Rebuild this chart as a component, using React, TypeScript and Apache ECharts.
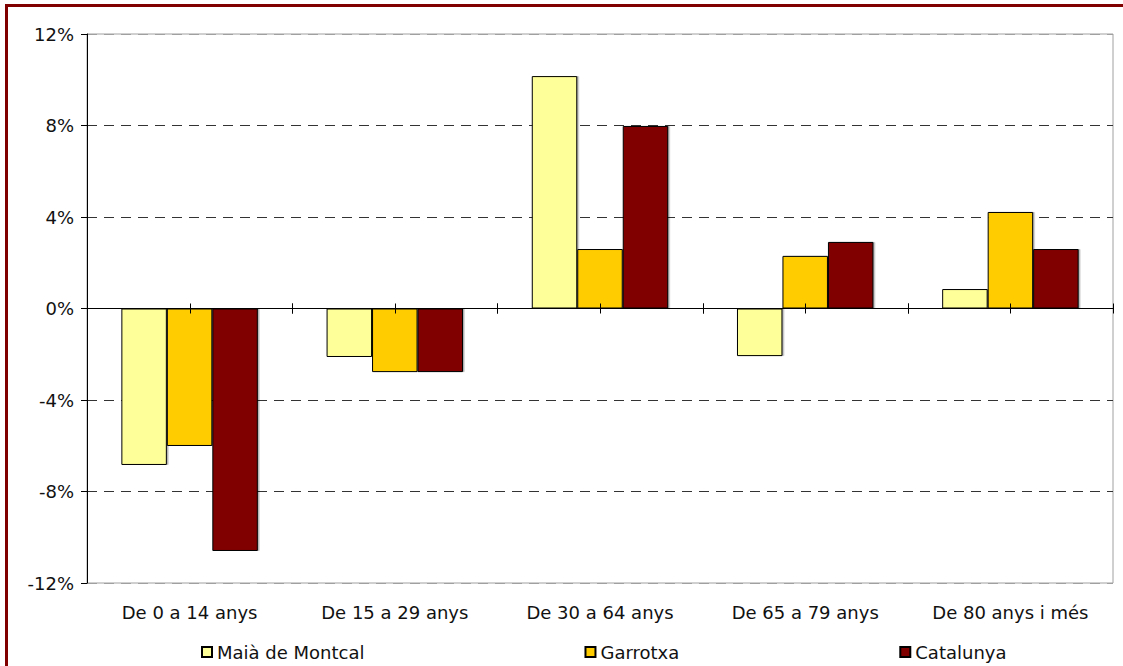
import React, { useEffect, useRef } from "react";
import * as echarts from "echarts";

const categories = ["De 0 a 14 anys", "De 15 a 29 anys", "De 30 a 64 anys", "De 65 a 79 anys", "De 80 anys i més"];
const maiaValues = [-6.84, -2.12, 10.16, -2.08, 0.85];
const garrotxaValues = [-6.01, -2.78, 2.6, 2.3, 4.22];
const catalunyaValues = [-10.6, -2.78, 7.98, 2.91, 2.6];
const seriesNames = ["Maià de Montcal", "Garrotxa", "Catalunya"];
const seriesColors = ["#FFFF99", "#FFCC00", "#800000"];
const yTicks = { min: -12, max: 12, interval: 4 };

const FONT = "DejaVu Sans";

export default function App() {
  const ref = useRef<HTMLDivElement>(null);
  useEffect(() => {
    document.body.style.margin = "0";
    const chart = echarts.init(ref.current!, null, { renderer: "svg" });
    const seriesData = [maiaValues, garrotxaValues, catalunyaValues];
    const barSeries = seriesData.map((d, i) => ({
      name: seriesNames[i],
      type: "bar",
      xAxisIndex: 0,
      yAxisIndex: 0,
      data: d,
      barGap: "0%",
      barCategoryGap: "33.5%",
      itemStyle: {
        color: seriesColors[i],
        borderColor: "#000",
        borderWidth: 1,
        shadowColor: "rgba(0,0,0,0.3)",
        shadowOffsetX: 1.5,
        shadowOffsetY: 0,
        shadowBlur: 1,
      },
      z: 2,
    }));
    const tickSeries = {
      type: "custom",
      xAxisIndex: 0,
      yAxisIndex: 0,
      silent: true,
      z: 10,
      data: categories.map((_, i) => [i, 0]),
      renderItem: (params: any, api: any) => {
        const c = api.coord([api.value(0), 0]);
        const w = api.size([1, 0])[0];
        const xs = [c[0] - w / 2, c[0], c[0] + w / 2];
        return {
          type: "group",
          children: xs.map((x) => ({
            type: "line",
            shape: { x1: Math.round(x) + 0.5, y1: c[1] - 5, x2: Math.round(x) + 0.5, y2: c[1] + 5 },
            style: { stroke: "#000", lineWidth: 1 },
          })),
        };
      },
    };
    chart.setOption({
      animation: false,
      backgroundColor: "#fff",
      grid: {
        left: 87,
        right: 10,
        top: 34,
        bottom: 83,
        show: true,
        borderColor: "#a0a0a0",
        borderWidth: 1,
        containLabel: false,
      },
      legend: {
        data: seriesNames,
        left: 196,
        top: 638,
        itemWidth: 10,
        itemHeight: 10,
        itemGap: 220,
        textStyle: { fontFamily: FONT, fontSize: 18, color: "#111", padding: [0, 0, 0, 0] },
        icon: "rect",
      },
      xAxis: [
        {
          type: "category",
          data: categories,
          position: "bottom",
          axisLine: { show: false, onZero: false },
          axisTick: { show: false },
          axisLabel: { fontFamily: FONT, fontSize: 18, color: "#111", margin: 20, interval: 0 },
          splitLine: { show: false },
        },
        {
          type: "category",
          data: categories,
          position: "bottom",
          axisLine: { show: true, onZero: true, lineStyle: { color: "#000", width: 1 } },
          axisTick: { show: false },
          axisLabel: { show: false },
          splitLine: { show: false },
          z: 5,
        },
      ],
      yAxis: {
        type: "value",
        min: yTicks.min,
        max: yTicks.max,
        interval: yTicks.interval,
        axisLine: { show: true, lineStyle: { color: "#000", width: 1 } },
        axisTick: { show: true, inside: false, length: 6, lineStyle: { color: "#000" } },
        axisLabel: {
          fontFamily: FONT,
          fontSize: 18,
          color: "#111",
          margin: 13,
          formatter: (v: number) => `${v}%`,
        },
        splitLine: {
          show: true,
          lineStyle: {
            color: ["#a0a0a0", "#333", "#333", "#333", "#333", "#333", "#a0a0a0"],
            type: [10, 7],
            width: 1,
          },
        },
      },
      graphic: [
        { type: "rect", shape: { x: 5, y: 4, width: 1118, height: 3 }, style: { fill: "#800000" }, z: 100 },
        { type: "rect", shape: { x: 5, y: 4, width: 3, height: 662 }, style: { fill: "#800000" }, z: 100 },
      ],
      series: [...barSeries, tickSeries],
    });
    return () => chart.dispose();
  }, []);
  return <div ref={ref} style={{ width: 1123, height: 666, background: "#fff" }} />;
}
